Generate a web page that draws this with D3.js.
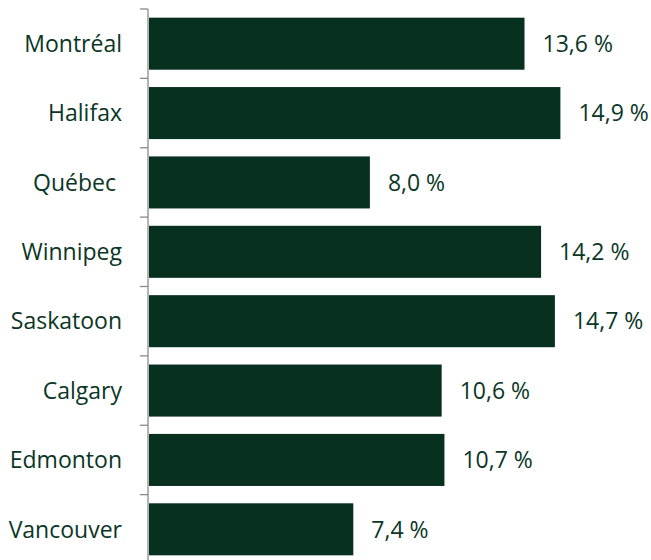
<!DOCTYPE html>
<html>
<head>
<meta charset="utf-8">
<script src="https://cdn.jsdelivr.net/npm/d3@7"></script>
<style>
  body { margin: 0; background: #fff; }
  text { font-family: "Open Sans", sans-serif; }
</style>
</head>
<body>
<div id="wrapper"></div>
<script>
const cities = ["Montréal", "Halifax", "Québec ", "Winnipeg", "Saskatoon", "Calgary", "Edmonton", "Vancouver"];
const values = [13.6, 14.9, 8.0, 14.2, 14.7, 10.6, 10.7, 7.4];

function drawBars() {
  const dataset = cities.map((c, i) => ({ city: c, value: values[i] }));
  const yAccessor = d => d.city;
  const xAccessor = d => d.value;

  const dimensions = {
    width: 651,
    height: 560,
    axisX: 148,
    top: 9,
    bandsHeight: 555,
  };

  const svg = d3.select("#wrapper")
    .append("svg")
    .attr("width", dimensions.width)
    .attr("height", dimensions.height);

  const yScaler = d3.scaleBand()
    .domain(cities)
    .range([dimensions.top, dimensions.top + dimensions.bandsHeight])
    .paddingInner(0.25)
    .paddingOuter(0.125);

  const xScaler = d3.scaleLinear()
    .domain([0, 18])
    .range([dimensions.axisX + 1, dimensions.axisX + 1 + 497]);

  const textColor = "#0b3626";
  const barColor = "#07301f";

  // bars
  svg.append("g")
    .selectAll("rect")
    .data(dataset)
    .join("rect")
    .attr("x", xScaler(0))
    .attr("y", d => yScaler(yAccessor(d)))
    .attr("width", d => xScaler(xAccessor(d)) - xScaler(0))
    .attr("height", yScaler.bandwidth())
    .attr("fill", barColor);

  // axis line + ticks between categories
  const gap = yScaler.step() * yScaler.paddingInner() / 2;
  const tickYs = cities.map(c => yScaler(c) - gap);
  const axis = svg.append("g").attr("stroke", "#8a8a8a").attr("stroke-width", 1.3);
  axis.append("line")
    .attr("x1", dimensions.axisX).attr("x2", dimensions.axisX)
    .attr("y1", tickYs[0]).attr("y2", dimensions.height);
  axis.selectAll(".tick")
    .data(tickYs)
    .join("line")
    .attr("class", "tick")
    .attr("x1", dimensions.axisX - 8).attr("x2", dimensions.axisX)
    .attr("y1", d => d).attr("y2", d => d);

  // category labels
  svg.append("g")
    .selectAll("text")
    .data(dataset)
    .join("text")
    .attr("x", 122)
    .attr("y", d => yScaler(yAccessor(d)) + yScaler.bandwidth() / 2)
    .attr("dy", "0.36em")
    .attr("text-anchor", "end")
    .style("white-space", "pre")
    .attr("font-size", "23px")
    .attr("fill", textColor)
    .text(d => yAccessor(d).replace(/ $/, "\u00A0"));

  // value labels
  svg.append("g")
    .selectAll("text")
    .data(dataset)
    .join("text")
    .attr("x", d => xScaler(xAccessor(d)) + 18)
    .attr("y", d => yScaler(yAccessor(d)) + yScaler.bandwidth() / 2)
    .attr("dy", "0.36em")
    .attr("font-size", "23px")
    .attr("fill", textColor)
    .text(d => d3.format(".1f")(xAccessor(d)).replace(".", ",") + "\u00A0%");
}
drawBars();
</script>
</body>
</html>
